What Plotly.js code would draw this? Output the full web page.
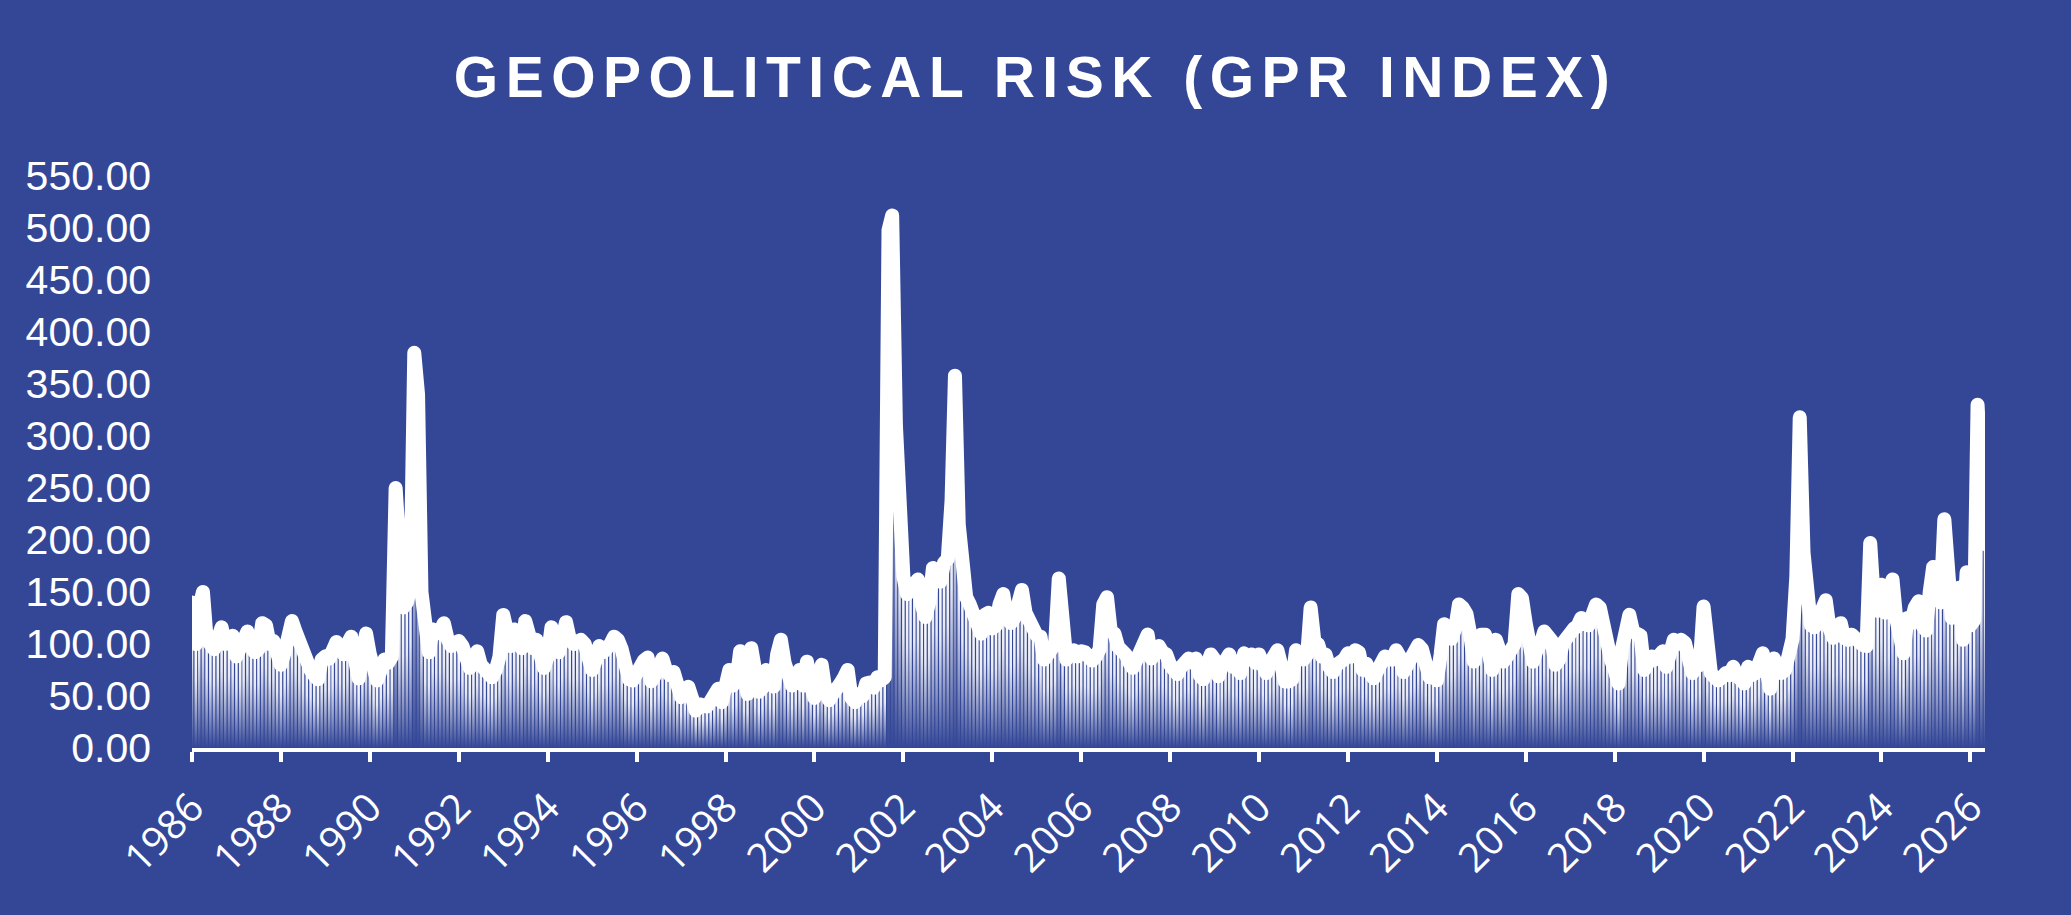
<!DOCTYPE html>
<html>
<head>
<meta charset="utf-8">
<script src="https://cdn.plot.ly/plotly-3.0.1.min.js"></script>
<style>
  html, body { margin: 0; padding: 0; background: #344797; }
  #chart { width: 2071px; height: 915px; }
</style>
</head>
<body>
<div id="chart"></div>
<script>
// monthly GPR index, Jan 1986 onwards
var gpr1986to1995 = [
  140, 100, 135, 150, 105, 100, 95, 105, 116, 100, 106, 108,
  88, 95, 100, 112, 98, 92, 95, 120, 118, 100, 103, 85,
  80, 92, 105, 122, 112, 100, 88, 78, 75, 70, 66, 85,
  88, 86, 92, 102, 95, 90, 100, 107, 85, 67, 90, 110,
  90, 72, 65, 75, 85, 82, 88, 250, 140, 135, 140, 155,
  380, 340, 150, 98, 92, 114, 110, 112, 120, 105, 98, 100,
  103, 98, 82, 77, 82, 93, 80, 76, 68, 68, 75, 88,
  128, 108, 98, 114, 105, 96, 122, 110, 96, 104, 85, 77,
  88, 116, 100, 92, 105, 121, 105, 100, 102, 104, 100, 85,
  75, 85, 98, 92, 95, 100, 107, 104, 95, 73, 66, 65
];
var gpr1996to2005 = [
  72, 81, 84, 87, 64, 70, 78, 86, 74, 70, 73, 58,
  49, 56, 59, 48, 36, 42, 40, 40, 45, 50, 57, 44,
  55, 75, 60, 65, 93, 56, 52, 96, 62, 54, 58, 75,
  62, 59, 90, 104, 82, 70, 60, 68, 75, 60, 83, 62,
  48, 58, 80, 55, 46, 52, 55, 62, 68, 75, 48, 44,
  52, 50, 62, 63, 58, 68, 65, 68, 498, 512, 310, 230,
  165, 148, 152, 158, 162, 138, 126, 140, 173, 170, 160, 178,
  182, 238, 358, 215, 160, 145, 138, 125, 118, 110, 128, 130,
  115, 118, 138, 148, 125, 120, 125, 140, 152, 130, 122, 112,
  108, 107, 85, 90, 95, 100, 163, 115, 85, 90, 94, 88
];
var gpr2006to2015 = [
  93, 92, 90, 84, 88, 95, 138, 145, 112, 110, 97, 94,
  90, 82, 77, 85, 95, 105, 109, 86, 92, 98, 92, 90,
  80, 72, 71, 78, 86, 86, 82, 86, 70, 66, 80, 90,
  85, 69, 78, 88, 90, 78, 80, 72, 91, 85, 90, 82,
  90, 80, 72, 82, 88, 94, 80, 64, 64, 66, 94, 88,
  85, 90, 135, 102, 100, 88, 90, 78, 73, 80, 82, 85,
  91, 88, 94, 92, 75, 81, 72, 67, 75, 80, 88, 85,
  85, 94, 88, 73, 78, 85, 90, 99, 95, 78, 68, 72,
  65, 90, 119, 110, 105, 115, 138, 135, 129, 110, 83, 100,
  109, 109, 90, 75, 104, 90, 83, 88, 95, 100, 148, 144
];
var gpr2016to2026 = [
  120, 107, 83, 95, 100, 112, 108, 103, 80, 85, 101, 108,
  112, 115, 117, 125, 120, 118, 128, 138, 135, 115, 98, 85,
  75, 62, 95, 122, 128, 112, 110, 108, 75, 82, 88, 85,
  88, 93, 78, 92, 104, 100, 104, 101, 85, 72, 78, 80,
  136, 85, 72, 68, 65, 68, 72, 70, 78, 70, 66, 62,
  78, 70, 72, 80, 91, 75, 57, 86, 75, 72, 75, 88,
  105, 165, 318, 188, 140, 118, 116, 125, 130, 142, 115, 106,
  110, 120, 106, 104, 109, 105, 100, 99, 98, 197, 140, 132,
  157, 130, 135, 162, 125, 100, 91, 125, 120, 135, 141, 118,
  113, 150, 174, 145, 140, 220, 140, 125, 130, 154, 104, 169,
  118, 123, 330, 205, 196
];
var startYear = 1986;
var chartTitle = 'GEOPOLITICAL RISK (GPR INDEX)';

var gpr = gpr1986to1995.concat(gpr1996to2005, gpr2006to2015, gpr2016to2026);
var months = gpr.map(function (v, i) {
    var y = startYear + Math.floor(i / 12);
    var m = i % 12 + 1;
    return y + '-' + (m < 10 ? '0' : '') + m + '-01';
});

var BG = '#344797';
var WHITE = '#ffffff';

var bars = {
    type: 'bar',
    x: months,
    y: gpr,
    marker: {color: WHITE, line: {width: 0}},
    hoverinfo: 'skip'
};

var line = {
    type: 'scatter',
    mode: 'lines',
    x: months,
    y: gpr,
    line: {color: WHITE, width: 14, shape: 'linear'},
    hoverinfo: 'skip'
};

var layout = {
    width: 2071,
    height: 915,
    paper_bgcolor: BG,
    plot_bgcolor: BG,
    showlegend: false,
    bargap: 0.25,
    margin: {l: 192, r: 86, t: 176, b: 167},
    title: {
        text: chartTitle,
        font: {family: 'Liberation Sans, Arial, sans-serif', size: 57, color: WHITE, weight: 700},
        xref: 'container',
        x: 0.5,
        y: 1 - 77 / 915,
        yanchor: 'middle'
    },
    xaxis: {
        type: 'date',
        range: [months[0], months[months.length - 1]],
        tick0: '1986-01-01',
        dtick: 'M24',
        tickformat: '%Y',
        tickangle: -45,
        showgrid: false,
        zeroline: false,
        showline: true,
        linecolor: WHITE,
        linewidth: 4,
        ticks: 'outside',
        ticklen: 10,
        tickwidth: 4,
        tickcolor: WHITE,
        ticklabelstandoff: 6,
        tickfont: {family: 'Open Sans, sans-serif', size: 40, color: WHITE}
    },
    yaxis: {
        range: [0, 550],
        tick0: 0,
        dtick: 50,
        tickformat: '.2f',
        showgrid: false,
        zeroline: false,
        showline: false,
        ticks: '',
        ticklabelstandoff: 40,
        tickfont: {family: 'Liberation Sans, Arial, sans-serif', size: 41, color: WHITE}
    }
};

Plotly.newPlot('chart', [bars, line], layout, {staticPlot: true}).then(function (gd) {
    // per-bar fade: white at the top of each bar, into the background at the bottom
    var ns = 'http://www.w3.org/2000/svg';
    var svg = gd.querySelector('.main-svg');
    var defs = svg.querySelector('defs') || svg.insertBefore(document.createElementNS(ns, 'defs'), svg.firstChild);
    var grad = document.createElementNS(ns, 'linearGradient');
    grad.setAttribute('id', 'barFade');
    grad.setAttribute('x1', '0'); grad.setAttribute('y1', '0');
    grad.setAttribute('x2', '0'); grad.setAttribute('y2', '1');
    [[0, 1], [0.35, 0.88], [0.7, 0.42], [1, 0]].forEach(function (s) {
        var stop = document.createElementNS(ns, 'stop');
        stop.setAttribute('offset', s[0]);
        stop.setAttribute('stop-color', WHITE);
        stop.setAttribute('stop-opacity', s[1]);
        grad.appendChild(stop);
    });
    defs.appendChild(grad);
    gd.querySelectorAll('.barlayer .point path').forEach(function (p) {
        p.style.fill = 'url(#barFade)';
    });
    gd.querySelectorAll('.scatterlayer .js-line').forEach(function (p) {
        p.style.strokeLinejoin = 'round';
        p.style.strokeLinecap = 'round';
    });
    var t = gd.querySelector('.gtitle');
    if (t) t.style.letterSpacing = '7.5px';
});
</script>
</body>
</html>
